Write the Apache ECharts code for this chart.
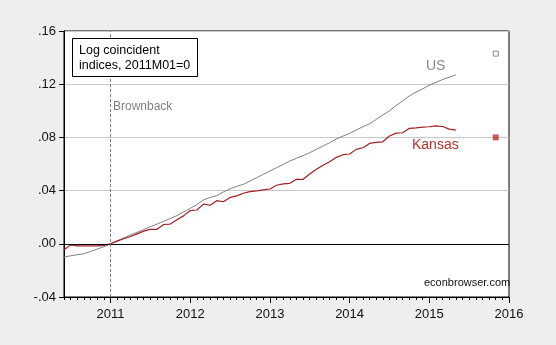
<!DOCTYPE html>
<html>
<head>
<meta charset="utf-8">
<script src="https://cdn.jsdelivr.net/npm/echarts@6/dist/echarts.min.js"></script>
<style>
  html, body { margin: 0; padding: 0; background: #eeeeee; }
  #chart { width: 556px; height: 345px; }
</style>
</head>
<body>
<div id="chart"></div>
<script>
// Monthly axis, 2010M06 through 2016M01
const months = [];
for (let y = 2010, m = 6; y < 2016 || (y === 2016 && m === 1); ) {
  months.push(y + 'M' + String(m).padStart(2, '0'));
  m++; if (m > 12) { m = 1; y++; }
}

// Log coincident indices, 2011M01 = 0 (2010M06 .. 2015M05)
const usIndex = [
  -0.0100, -0.0090, -0.0082, -0.0075, -0.0058, -0.0040, -0.0022,
   0.0000,  0.0022,  0.0044,  0.0066,  0.0086,  0.0107,  0.0128,
   0.0148,  0.0169,  0.0190,  0.0212,  0.0240,  0.0266,  0.0295,
   0.0330,  0.0348,  0.0362,  0.0390,  0.0413,  0.0432,  0.0447,
   0.0472,  0.0497,  0.0522,  0.0547,  0.0572,  0.0597,  0.0622,
   0.0643,  0.0663,  0.0685,  0.0710,  0.0735,  0.0760,  0.0788,
   0.0810,  0.0830,  0.0855,  0.0880,  0.0902,  0.0935,  0.0968,
   0.1000,  0.1040,  0.1075,  0.1112,  0.1140,  0.1165,  0.1192,
   0.1214,  0.1235,  0.1252,  0.1270
];
const kansasIndex = [
  -0.0045, -0.0008, -0.0015, -0.0015, -0.0015, -0.0015, -0.0012,
   0.0000,  0.0020,  0.0038,  0.0055,  0.0075,  0.0095,  0.0109,
   0.0109,  0.0145,  0.0148,  0.0180,  0.0210,  0.0250,  0.0254,
   0.0298,  0.0290,  0.0324,  0.0316,  0.0349,  0.0360,  0.0380,
   0.0392,  0.0398,  0.0405,  0.0412,  0.0440,  0.0450,  0.0455,
   0.0485,  0.0485,  0.0525,  0.0560,  0.0590,  0.0617,  0.0650,
   0.0670,  0.0675,  0.0710,  0.0722,  0.0755,  0.0762,  0.0767,
   0.0810,  0.0832,  0.0835,  0.0868,  0.0872,  0.0877,  0.0880,
   0.0887,  0.0882,  0.0862,  0.0855
];

// Single points plotted at 2015M11
const pointMonth = '2015M11';
const usPoint = 0.143;
const kansasPoint = 0.080;

const yTicks = { min: -0.04, max: 0.16, step: 0.04 };
const eventMonth = '2011M01';

const FONT = '"Liberation Sans", Arial, sans-serif';
const GRID = { left: 64, right: 47, top: 31, bottom: 48 };

const fmtY = v => {
  const r = Math.round(v * 100) / 100;
  if (r === 0) return '.00';
  return (r < 0 ? '-' : '') + Math.abs(r).toFixed(2).replace(/^0/, '');
};
const isJan = (i, name) => /M01$/.test(name || months[i]);

const chart = echarts.init(document.getElementById('chart'), null, { renderer: 'canvas' });

chart.setOption({
  backgroundColor: '#eeeeee',
  animation: false,
  grid: Object.assign({
    show: true, backgroundColor: '#ffffff', borderColor: '#000000', borderWidth: 1
  }, GRID),
  xAxis: [
    {
      // monthly minor ticks
      type: 'category', data: months, boundaryGap: false, position: 'bottom',
      axisLine: { show: true, onZero: false, lineStyle: { color: '#000', width: 1 } },
      axisTick: { show: true, interval: 0, length: 3, lineStyle: { color: '#000' } },
      axisLabel: { show: false },
      splitLine: { show: false }
    },
    {
      // yearly ticks and labels
      type: 'category', data: months, boundaryGap: false, position: 'bottom',
      axisLine: { show: false, onZero: false },
      axisTick: { show: true, interval: isJan, length: 6, lineStyle: { color: '#000' } },
      axisLabel: {
        show: true, interval: isJan, margin: 11,
        formatter: v => v.slice(0, 4),
        fontFamily: FONT, fontSize: 13, color: '#111'
      },
      splitLine: { show: false }
    }
  ],
  yAxis: {
    type: 'value', min: yTicks.min, max: yTicks.max, interval: yTicks.step,
    axisLine: { show: true, onZero: false, lineStyle: { color: '#000' } },
    axisTick: { show: true, length: 5, lineStyle: { color: '#000' } },
    axisLabel: { formatter: fmtY, fontFamily: FONT, fontSize: 13, color: '#111', margin: 8 },
    splitLine: { show: true, lineStyle: { color: '#c8c8c8', width: 1 } }
  },
  series: [
    {
      name: 'US', type: 'line', data: usIndex, showSymbol: false,
      lineStyle: { color: '#7f7f7f', width: 1 }, z: 3,
      markLine: {
        silent: true, symbol: 'none', animation: false,
        label: { show: false },
        data: [
          { yAxis: 0, lineStyle: { color: '#000', type: 'solid', width: 1.2 } },
          { xAxis: eventMonth, lineStyle: { color: '#808080', type: [3, 2], width: 1 } }
        ]
      }
    },
    {
      name: 'Kansas', type: 'line', data: kansasIndex, showSymbol: false,
      lineStyle: { color: '#a31f1f', width: 1.2 }, z: 4
    },
    {
      name: 'US point', type: 'scatter', symbol: 'rect', symbolSize: 5,
      data: [[pointMonth, usPoint]],
      itemStyle: { color: '#ffffff', borderColor: '#707070', borderWidth: 1 }
    },
    {
      name: 'Kansas point', type: 'scatter', symbol: 'rect', symbolSize: 6,
      data: [[pointMonth, kansasPoint]],
      itemStyle: { color: '#c0302a' }
    }
  ],
  graphic: [
    {
      type: 'rect', left: 72, top: 38, shape: { width: 125, height: 38 },
      style: { fill: '#ffffff', stroke: '#000000', lineWidth: 1 }, z: 10
    },
    {
      type: 'text', left: 79, top: 43, z: 11,
      style: { text: 'Log coincident\nindices, 2011M01=0', fontFamily: FONT, fontSize: 12.5,
               lineHeight: 15, fill: '#000' }
    },
    {
      type: 'text', left: 113, top: 101, z: 11,
      style: { text: 'Brownback', fontFamily: FONT, fontSize: 12, fill: '#808080' }
    },
    {
      type: 'text', left: 426, top: 59, z: 11,
      style: { text: 'US', fontFamily: FONT, fontSize: 14, fill: '#8a8a8a' }
    },
    {
      type: 'text', left: 412, top: 138, z: 11,
      style: { text: 'Kansas', fontFamily: FONT, fontSize: 14, fill: '#c0302a' }
    },
    {
      type: 'text', left: 424, top: 277, z: 11,
      style: { text: 'econbrowser.com', fontFamily: FONT, fontSize: 11, fill: '#111' }
    }
  ]
});
</script>
</body>
</html>
